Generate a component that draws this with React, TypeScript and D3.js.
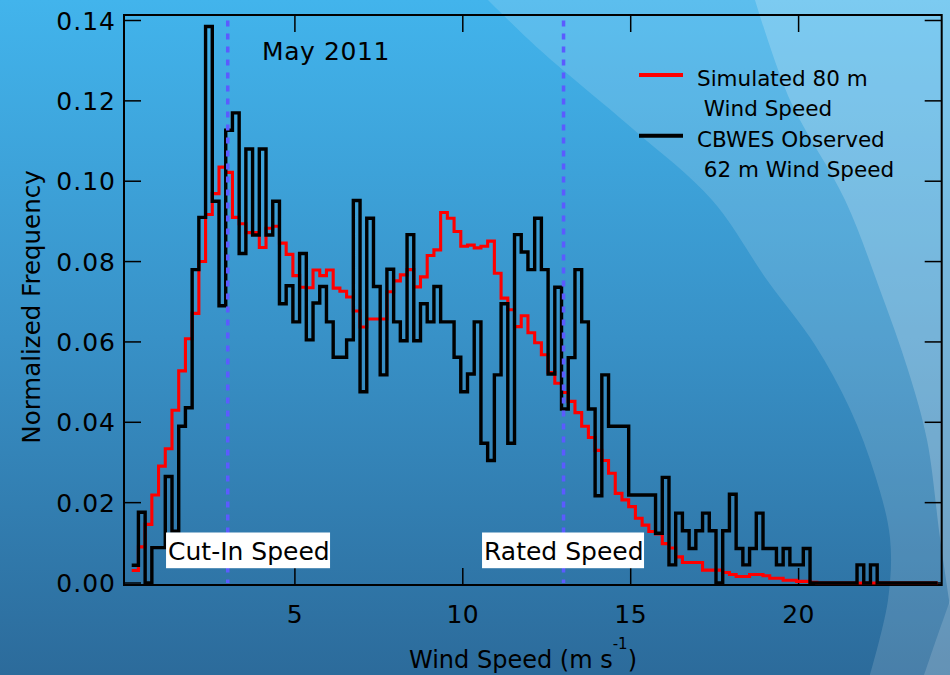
import React from 'react';
import * as d3 from 'd3';

// ---------- data ----------
const BIN_START = 0.14; // m/s, left edge of first bin
const BIN_WIDTH = 0.2; // m/s

// CBWES observed 62 m wind speed (normalized frequency per bin)
const observed = [
  0.0044, 0.0176, 0, 0.0088, 0.0088, 0.0265, 0.0129, 0.039, 0.0436, 0.078,
  0.091, 0.1385, 0.095, 0.069, 0.1127, 0.117, 0.082, 0.108, 0.0866, 0.108,
  0.0866, 0.095, 0.0695, 0.074, 0.065, 0.082, 0.0605, 0.0697, 0.0738, 0.065,
  0.0562, 0.0562, 0.0605, 0.0952, 0.0476, 0.0908, 0.0738, 0.0518, 0.0781, 0.065,
  0.0603, 0.0867, 0.0603, 0.0695, 0.065, 0.0738, 0.065, 0.065, 0.0562, 0.0476,
  0.052, 0.065, 0.0348, 0.0305, 0.0518, 0.0695, 0.0348, 0.0867, 0.0824, 0.078,
  0.0908, 0.078, 0.052, 0.0736, 0.0433, 0.0561, 0.078, 0.065, 0.0433, 0.0217,
  0.0518, 0.039, 0.039, 0.039, 0.0219, 0.0219, 0.0219, 0.0219, 0.0124, 0.0263,
  0.0045, 0.0174, 0.013, 0.0086, 0.013, 0.0174, 0.013, 0, 0.013, 0.0221,
  0.0086, 0.0045, 0.0086, 0.0174, 0.0086, 0.0086, 0.0045, 0.0086, 0.0045, 0.0045,
  0.0086, 0, 0, 0, 0, 0, 0, 0, 0.0045, 0,
  0.0045, 0, 0, 0, 0, 0, 0, 0, 0, 0,
];

// Simulated 80 m wind speed
const simulated = [
  0.0031, 0.009, 0.0146, 0.0219, 0.0291, 0.0334, 0.043, 0.0528, 0.0608, 0.0671,
  0.08, 0.0917, 0.0969, 0.1035, 0.1022, 0.091, 0.0894, 0.0872, 0.0872, 0.0835,
  0.0883, 0.0888, 0.0846, 0.0818, 0.0765, 0.0736, 0.0735, 0.0779, 0.0765, 0.0779,
  0.0734, 0.0726, 0.0712, 0.0677, 0.0637, 0.0657, 0.0657, 0.0657, 0.0725, 0.0752,
  0.0767, 0.078, 0.0737, 0.0762, 0.0815, 0.0829, 0.0922, 0.0908, 0.0875, 0.0838,
  0.0841, 0.0834, 0.0838, 0.0851, 0.0771, 0.0709, 0.068, 0.0638, 0.0665, 0.0623,
  0.0598, 0.0568, 0.0524, 0.0497, 0.0474, 0.0452, 0.0424, 0.039, 0.0362, 0.033,
  0.0305, 0.0273, 0.0223, 0.0207, 0.019, 0.0161, 0.0144, 0.0128, 0.0122, 0.0098,
  0.0087, 0.0065, 0.0051, 0.0051, 0.0051, 0.0032, 0.0032, 0.0032, 0.0026, 0.0021,
  0.0016, 0.0016, 0.0021, 0.0021, 0.0018, 0.0012, 0.0012, 0.0007, 0.0007, 0.0004,
  0.0004, 0.0002, 0, 0, 0, 0, 0, 0, 0, 0,
  0, 0, 0, 0, 0, 0, 0, 0, 0, 0,
];

const xTicks = [5, 10, 15, 20];
const yTicks = [0, 0.02, 0.04, 0.06, 0.08, 0.1, 0.12, 0.14];
const markerSpeeds = [3, 13];
const markerLabels = ['Cut-In Speed', 'Rated Speed'];
const titleText = 'May 2011';
const legendLines = [
  ['Simulated 80 m', ' Wind Speed'],
  ['CBWES Observed', ' 62 m Wind Speed'],
];

// ---------- layout ----------
const W = 950;
const H = 675;
const FRAME = { left: 124, right: 941.7, top: 15, bottom: 585 };
const FONT = "'DejaVu Sans', 'Liberation Sans', sans-serif";
const labelBox = [
  { dx: -61.7, w: 164 },
  { dx: -81.5, w: 162 },
];

export default function App() {
  const x = d3.scaleLinear().domain([0, 20]).range([127, 798.6]);
  const y = d3.scaleLinear().domain([0, 0.14]).range([583, 20.5]);

  const stepPath = (vals: number[]) => {
    const pts: [number, number][] = vals.map((v, i) => [BIN_START + i * BIN_WIDTH, v]);
    pts.push([BIN_START + vals.length * BIN_WIDTH, vals[vals.length - 1]]);
    return (
      d3
        .line<[number, number]>()
        .x((d) => x(d[0]))
        .y((d) => y(d[1]))
        .curve(d3.curveStepAfter)(pts) || ''
    );
  };

  const smooth = d3
    .line<[number, number]>()
    .x((d) => d[0])
    .y((d) => d[1])
    .curve(d3.curveCatmullRom);

  // decorative background arcs
  const arc1: [number, number][] = [
    [488, 0], [540, 50], [633, 129], [712, 200], [767, 280], [815, 345],
    [850, 409], [875, 475], [890, 538], [888, 600], [870, 675],
  ];
  const arc2: [number, number][] = [
    [755, 0], [790, 100], [845, 200], [880, 290], [908, 370],
    [927, 440], [940, 538], [952, 620],
  ];
  const arc3: [number, number][] = [
    [924, 675], [936, 640], [952, 595],
  ];

  const band1 = smooth(arc1) + ` L${W},${H} L${W},0 Z`;
  const band2 = smooth(arc2) + ` L${W},0 Z`;
  const band3 = smooth(arc3) + ` L${W},${H} Z`;

  const tickLen = 17;

  return (
    <svg
      width={W}
      height={H}
      style={{ position: 'absolute', left: 0, top: 0, display: 'block' }}
      fontFamily={FONT}
    >
      <defs>
        <linearGradient id="bg" x1="0" y1="0" x2="0" y2="1">
          <stop offset="0" stopColor="#42b4ec" />
          <stop offset="0.5" stopColor="#3891c7" />
          <stop offset="1" stopColor="#2c6b9b" />
        </linearGradient>
      </defs>
      <rect x={0} y={0} width={W} height={H} fill="url(#bg)" />
      <path d={band1} fill="#ffffff" opacity={0.14} />
      <path d={band2} fill="#ffffff" opacity={0.2} />
      <path d={band3} fill="#ffffff" opacity={0.15} />

      {/* frame */}
      <rect
        x={FRAME.left}
        y={FRAME.top}
        width={FRAME.right - FRAME.left}
        height={FRAME.bottom - FRAME.top}
        fill="none"
        stroke="#000"
        strokeWidth={2}
      />

      {/* y ticks (both sides, inward) */}
      {yTicks.map((t) => (
        <g key={'y' + t}>
          <line x1={FRAME.left} x2={FRAME.left + tickLen} y1={y(t)} y2={y(t)} stroke="#000" strokeWidth={1.5} />
          <line x1={FRAME.right} x2={FRAME.right - tickLen} y1={y(t)} y2={y(t)} stroke="#000" strokeWidth={1.5} />
          <text
            x={116}
            y={y(t) + 9}
            textAnchor="end"
            fontSize={25}
            letterSpacing={1}
            fill="#000"
          >
            {t.toFixed(2)}
          </text>
        </g>
      ))}

      {/* x ticks (top and bottom, inward) */}
      {xTicks.map((t) => (
        <g key={'x' + t}>
          <line x1={x(t)} x2={x(t)} y1={FRAME.bottom} y2={FRAME.bottom - tickLen} stroke="#000" strokeWidth={1.5} />
          <line x1={x(t)} x2={x(t)} y1={FRAME.top} y2={FRAME.top + tickLen} stroke="#000" strokeWidth={1.5} />
          <text x={x(t)} y={623} textAnchor="middle" fontSize={25} letterSpacing={0.5} fill="#000">
            {t}
          </text>
        </g>
      ))}

      {/* histograms */}
      <path d={stepPath(simulated)} fill="none" stroke="#ff0000" strokeWidth={3.1} strokeLinejoin="miter" />
      <path d={stepPath(observed)} fill="none" stroke="#000000" strokeWidth={3.4} strokeLinejoin="miter" />

      {/* marker lines */}
      {markerSpeeds.map((s) => (
        <line
          key={'m' + s}
          x1={x(s)}
          x2={x(s)}
          y1={y(0.14)}
          y2={y(0)}
          stroke="#5b5bff"
          strokeWidth={3.5}
          strokeDasharray="6 7"
        />
      ))}

      {/* marker labels */}
      {markerSpeeds.map((s, i) => (
        <g key={'ml' + s}>
          <rect x={x(s) + labelBox[i].dx} y={532.5} width={labelBox[i].w} height={35.7} fill="#ffffff" />
          <text x={x(s) + labelBox[i].dx + 2} y={560} fontSize={25} fill="#000">
            {markerLabels[i]}
          </text>
        </g>
      ))}

      {/* title */}
      <text x={262} y={60} fontSize={25} letterSpacing={0.6} fill="#000">
        {titleText}
      </text>

      {/* legend */}
      <line x1={639} x2={683} y1={75} y2={75} stroke="#ff0000" strokeWidth={4} />
      <line x1={639} x2={683} y1={135.7} y2={135.7} stroke="#000" strokeWidth={4} />
      {legendLines.map((lines, i) => (
        <g key={'lg' + i}>
          <text x={697} y={85.7 + i * 61} fontSize={21.5} fill="#000" style={{ whiteSpace: 'pre' }}>
            {lines[0]}
          </text>
          <text x={697} y={115.5 + i * 61} fontSize={21.5} fill="#000" style={{ whiteSpace: 'pre' }}>
            {lines[1]}
          </text>
        </g>
      ))}

      {/* axis titles */}
      <text x={409} y={668} fontSize={24} fill="#000">
        Wind Speed (m s
        <tspan fontSize={15} dy={-19}>-1</tspan>
        <tspan dy={19}>)</tspan>
      </text>
      <text
        transform={`translate(40,307) rotate(-90)`}
        textAnchor="middle"
        fontSize={24.5}
        fill="#000"
      >
        Normalized Frequency
      </text>
    </svg>
  );
}
